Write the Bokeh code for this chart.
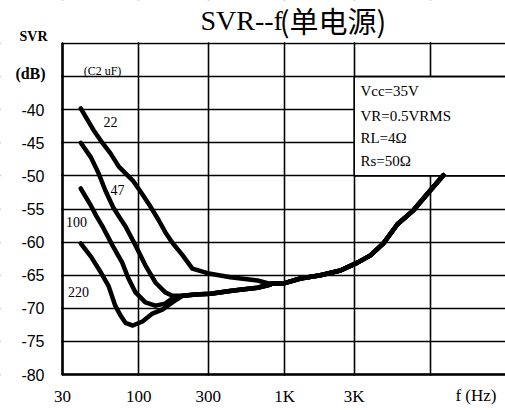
from math import log10
from bokeh.plotting import figure
from bokeh.models import FixedTicker, Label
from bokeh.embed import file_html
from bokeh.resources import INLINE

# ---------------- data ----------------
# C2 = 22 uF
c22_f = [40, 49, 55, 64, 73, 91, 103, 120, 137, 152, 170, 200, 233, 296, 425, 651, 800]
c22_db = [-39.8, -43.1, -44.7, -46.6, -48.6, -50.7, -52.4, -54.6, -56.7, -58.5, -60.1,
          -62.0, -64.0, -64.7, -65.3, -65.8, -66.3]
# C2 = 47 uF
c47_f = [40, 47, 53, 59, 67, 74, 81, 95, 111, 130, 152, 170]
c47_db = [-45.0, -47.2, -49.6, -52.2, -54.8, -56.3, -57.6, -60.5, -63.5, -66.1, -67.6, -68.1]
# C2 = 100 uF
c100_f = [40, 47, 51, 56, 66, 77, 85, 95, 111, 130, 152, 170]
c100_db = [-51.9, -54.5, -56.0, -57.5, -60.5, -63.1, -65.5, -67.6, -69.1, -69.6, -69.3, -68.5]
# C2 = 220 uF
c220_f = [40, 47, 55, 62, 69, 75, 81, 91, 106, 124, 145, 170]
c220_db = [-60.2, -62.2, -64.6, -66.6, -69.6, -71.1, -72.2, -72.6, -72.0, -70.8, -70.2, -69.1]
# shared branch of 47/100/220 after the dip
lower_f = [200, 245, 310, 446, 651, 800]
lower_db = [-68.1, -67.9, -67.8, -67.3, -66.9, -66.4]
# shared high-frequency branch of all curves
high_f = [800, 1000, 1284, 1760, 2413, 3157, 3874, 4756, 5934, 7636, 9527, 12260]
high_db = [-66.3, -66.2, -65.5, -65.0, -64.3, -63.1, -62.0, -60.2, -57.3, -55.2, -52.7, -49.9]

x_ticks = [30, 100, 300, 1000, 3000, 10000]
x_tick_labels = ["30", "100", "300", "1K", "3K", ""]
y_ticks = [-80, -75, -70, -65, -60, -55, -50, -45, -40, -35, -30]
y_tick_labels = ["-80", "-75", "-70", "-65", "-60", "-55", "-50", "-45", "-40", "", ""]
curve_names = ["22", "47", "100", "220"]
conditions = ["Vcc=35V", "VR=0.5VRMS", "RL=4\u03a9", "Rs=50\u03a9"]
title_latin = "SVR--f"
title_cjk = "(单电源)"

# ---------------- layout ----------------
W, H = 505, 410
X0, Y0 = 30, -80          # chart box lower-left corner (data)
Y1 = -30                   # chart box top (data)
px_per_decade = (430 - 62) / log10(10000 / 30)
px_per_db = (374 - 43) / 50.0
x_start = X0 * 10 ** ((0 - 62) / px_per_decade)
x_end = X0 * 10 ** ((W - 62) / px_per_decade)
y_start = Y0 - (H - 374) / px_per_db
y_end = Y1 + (43 - 0) / px_per_db

p = figure(width=W, height=H, x_axis_type="log", x_range=(x_start, x_end),
           y_range=(y_start, y_end), output_backend="svg", toolbar_location=None,
           min_border_left=0, min_border_right=0, min_border_top=0, min_border_bottom=0)
p.outline_line_color = None
p.background_fill_color = "white"
p.border_fill_color = "white"

xa, ya = p.xaxis[0], p.yaxis[0]
xa.fixed_location = Y0
ya.fixed_location = X0
xa.bounds = (X0, x_end)
ya.bounds = (Y0, Y1)
for ax in (xa, ya):
    ax.major_tick_in = 0
    ax.major_tick_out = 0
    ax.minor_tick_in = 0
    ax.minor_tick_out = 0
    ax.axis_line_color = "black"
    ax.axis_line_width = 2.5

xa.ticker = FixedTicker(ticks=x_ticks)
xa.major_label_overrides = {t: l for t, l in zip(x_ticks, x_tick_labels)}
xa.major_label_text_font = "Liberation Serif"
xa.major_label_text_font_size = "17px"
xa.major_label_text_color = "black"
xa.major_label_standoff = 12

ya.ticker = FixedTicker(ticks=y_ticks)
ya.major_label_overrides = {t: l for t, l in zip(y_ticks, y_tick_labels)}
ya.major_label_text_font = "Liberation Sans"
ya.major_label_text_font_size = "16px"
ya.major_label_text_color = "black"
ya.major_label_standoff = 18

for g in (p.xgrid[0], p.ygrid[0]):
    g.grid_line_color = "black"
    g.grid_line_width = 1.6
    g.grid_line_alpha = 1.0

# white margins around the chart box (hide grid outside of it)
eps_db = 0.2
eps_x = 10 ** (-1.3 / px_per_decade)
mask = dict(fill_color="white", line_color=None)
p.quad(left=[x_start], right=[X0 * eps_x], bottom=[y_start], top=[y_end], **mask)
p.quad(left=[x_start], right=[x_end], bottom=[Y1 + eps_db], top=[y_end], **mask)
p.quad(left=[x_start], right=[x_end], bottom=[y_start], top=[Y0 - eps_db], **mask)

# white box holding the test conditions
p.quad(left=[3000], right=[x_end * 2], bottom=[-50], top=[-35],
       fill_color="white", line_color="black", line_width=1.6)

# ---------------- curves ----------------
curves = [
    (c22_f + high_f, c22_db + high_db),
    (c47_f + lower_f + high_f, c47_db + lower_db + high_db),
    (c100_f + lower_f + high_f, c100_db + lower_db + high_db),
    (c220_f + lower_f + high_f, c220_db + lower_db + high_db),
]
for fx, dbs in curves:
    p.line(fx, dbs, line_color="black", line_width=4.5, line_join="round", line_cap="round")

# ---------------- texts ----------------
serif = "Liberation Serif"
def lab(x, y, text, size, font=serif, align="center", style="normal"):
    p.add_layout(Label(x=x, y=y, text=text, text_font=font, text_font_size=size,
                       text_align=align, text_baseline="middle", text_color="black",
                       text_font_style=style))

# curve names
lab(64, -41.9, curve_names[0], "14px")
lab(71.5, -52.2, curve_names[1], "14px")
lab(37.4, -57.0, curve_names[2], "14px")
lab(38.6, -67.6, curve_names[3], "14px")
lab(56.4, -34.2, "(C2 uF)", "12px")

# test conditions
for txt, yy in zip(conditions, [-37.25, -40.9, -44.35, -47.7]):
    lab(3309, yy, txt, "15px", align="left")

# axis titles
lab(19.0, -28.9, "SVR", "14px", style="bold")
lab(18.1, -34.5, "(dB)", "16px", style="bold")
lab(20500, -83.2, "f (Hz)", "17px")

# chart title
lab(264.6, -26.5, title_latin, "28px", align="left")
lab(925, -26.5, title_cjk, "29px", font="Noto Sans CJK SC", align="left")

open("out.html", "w").write(file_html(p, INLINE))
